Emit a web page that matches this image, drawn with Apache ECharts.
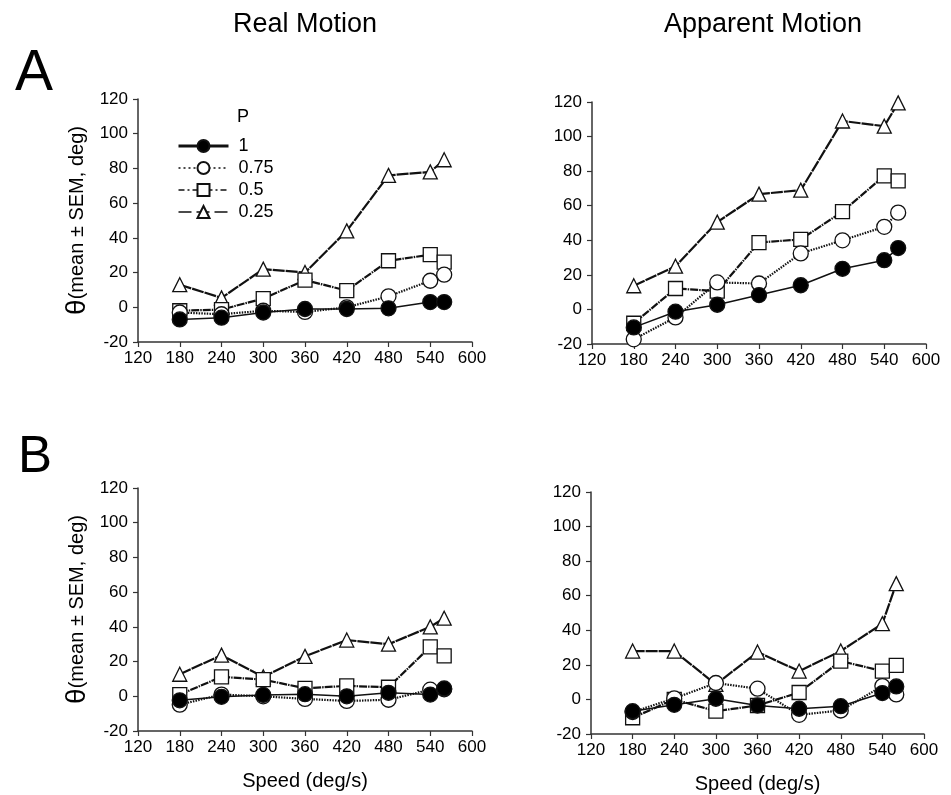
<!DOCTYPE html>
<html>
<head>
<meta charset="utf-8">
<script src="https://cdn.jsdelivr.net/npm/echarts@6/dist/echarts.min.js"></script>
<style>
  html, body { margin: 0; padding: 0; background: #fff; }
  #main { width: 951px; height: 795px; }
</style>
</head>
<body>
<div id="main"></div>
<script>
// speeds (deg/s) shared by every panel
var speeds = [180, 240, 300, 360, 420, 480, 540, 560];
var pLevels = ['1', '0.75', '0.5', '0.25'];
var xTicks = [120, 180, 240, 300, 360, 420, 480, 540, 600];
var yTicks = [-20, 0, 20, 40, 60, 80, 100, 120];

// A - real motion
var realA_1 = [-7, -6, -3, -1, -1, -0.6, 3, 3];
var realA_075 = [-3, -4, -2, -2.7, 0, 6.3, 15.3, 18.8];
var realA_05 = [-2, -1.3, 5, 15.7, 9.6, 26.8, 30.3, 26];
var realA_025 = [13, 5.4, 22, 20, 44, 76, 78, 85];

// A - apparent motion
var appA_1 = [-10.4, -1.3, 2.7, 8.3, 14, 23.5, 28.5, 35.5];
var appA_075 = [-17.3, -4.6, 15.6, 15, 32.4, 40, 47.8, 56];
var appA_05 = [-8, 12.1, 10.6, 38.7, 40.5, 56.6, 77.3, 74.4];
var appA_025 = [13.7, 25, 50.5, 66.7, 69, 109, 106, 119.5];

// B - real motion
var realB_1 = [-2.3, -0.3, 0.8, 1.2, 0, 2, 1, 4.5];
var realB_075 = [-4.8, 1, 0, -1.5, -2.7, -2, 3.8, 4];
var realB_05 = [1, 11.2, 9.6, 4.6, 6, 5.2, 28.5, 23.3];
var realB_025 = [12.7, 23.7, 11.2, 23, 32.4, 30, 40, 45];

// B - apparent motion
var appB_1 = [-6.8, -3.1, 0.4, -3.5, -5.4, -3.9, 3.7, 7.5];
var appB_075 = [-7.3, 0.6, 9.5, 6.2, -8.9, -6.4, 7.7, 2.9];
var appB_05 = [-10.6, 0, -6.8, -3.5, 4, 22.2, 16.4, 19.7];
var appB_025 = [28, 28, 8.7, 27.4, 16.4, 28, 43.8, 67];

var font = 'Liberation Sans, Arial, sans-serif';

var panels = [
  [realA_1, realA_075, realA_05, realA_025],
  [appA_1, appA_075, appA_05, appA_025],
  [realB_1, realB_075, realB_05, realB_025],
  [appB_1, appB_075, appB_05, appB_025]
];

// look of each P level (plot dash is finer than the legend dash)
var looks = {
  '1':    { symbol: 'circle',   size: 15, fill: '#000', dash: 'solid', legendDash: 'solid', width: 1.5 },
  '0.75': { symbol: 'circle',   size: 15, fill: '#fff', dash: [1.5, 1.2], legendDash: [2, 3], width: 2.2 },
  '0.5':  { symbol: 'rect',     size: 14, fill: '#fff', dash: [8, 1, 1.5, 1], legendDash: [6, 3, 2, 3], width: 2.2 },
  '0.25': { symbol: 'triangle', size: 14, fill: '#fff', dash: [12, 1], legendDash: [13, 5], width: 2.2 }
};

function pairs(vals) {
  return speeds.map(function (s, i) { return [s, vals[i]]; });
}

var series = [];
panels.forEach(function (panel, g) {
  // draw 0.25 first so the filled circles sit on top
  for (var k = pLevels.length - 1; k >= 0; k--) {
    var p = pLevels[k];
    var lk = looks[p];
    series.push({
      name: p,
      type: 'line',
      xAxisIndex: g,
      yAxisIndex: g,
      data: pairs(panel[k]),
      symbol: lk.symbol,
      symbolSize: lk.size,
      showAllSymbol: true,
      animation: false,
      itemStyle: { color: lk.fill, borderColor: '#111', borderWidth: 1.3, opacity: 1 },
      lineStyle: { color: '#111', width: lk.width, type: lk.dash },
      emphasis: { disabled: true }
    });
  }
});

var grids = [
  { left: 138, top: 99, width: 334, height: 243 },
  { left: 592, top: 102, width: 334, height: 242 },
  { left: 138, top: 488, width: 334, height: 243 },
  { left: 591, top: 492, width: 333, height: 242 }
];

var xAxes = grids.map(function (gr, i) {
  return {
    type: 'value', gridIndex: i,
    min: xTicks[0], max: xTicks[xTicks.length - 1], interval: 60,
    splitLine: { show: false },
    axisLine: { onZero: false, lineStyle: { color: '#333', width: 1.5 } },
    axisTick: { length: 5, lineStyle: { color: '#333', width: 1.2 } },
    axisLabel: { color: '#000', fontSize: 17, fontFamily: font, margin: 8 },
    name: i >= 2 ? 'Speed (deg/s)' : '',
    nameLocation: 'middle',
    nameGap: 40,
    nameTextStyle: { color: '#000', fontSize: 20, fontFamily: font }
  };
});

var yAxes = grids.map(function (gr, i) {
  return {
    type: 'value', gridIndex: i,
    min: yTicks[0], max: yTicks[yTicks.length - 1], interval: 20,
    splitLine: { show: false },
    axisLine: { show: true, lineStyle: { color: '#333', width: 1.5 } },
    axisTick: { show: true, length: 5, lineStyle: { color: '#333', width: 1.2 } },
    axisLabel: { color: '#000', fontSize: 17, fontFamily: font, margin: 10 },
    name: i % 2 === 0 ? '{t|θ}{m|(mean ± SEM, deg)}' : '',
    nameLocation: 'middle',
    nameGap: 47,
    nameTextStyle: {
      rich: {
        t: { fontSize: 28, fontFamily: font, color: '#000' },
        m: { fontSize: 20, fontFamily: font, color: '#000' }
      }
    }
  };
});

var chart = echarts.init(document.getElementById('main'));
chart.setOption({
  backgroundColor: '#fff',
  animation: false,
  title: [
    { text: 'Real Motion', left: 300, top: 6, textAlign: 'center',
      textStyle: { fontSize: 27, fontWeight: 'normal', color: '#000', fontFamily: font } },
    { text: 'Apparent Motion', left: 758, top: 6, textAlign: 'center',
      textStyle: { fontSize: 27, fontWeight: 'normal', color: '#000', fontFamily: font } },
    { text: 'A', left: 10, top: 41,
      textStyle: { fontSize: 57, fontWeight: 'normal', color: '#000', fontFamily: font } },
    { text: 'B', left: 13, top: 427,
      textStyle: { fontSize: 51, fontWeight: 'normal', color: '#000', fontFamily: font } }
  ],
  legend: {
    orient: 'vertical',
    left: 172, top: 132,
    itemWidth: 50, itemHeight: 15, itemGap: 4,
    selectedMode: false,
    textStyle: { fontSize: 18, fontFamily: font, color: '#000', padding: [0, 0, 0, 5] },
    data: pLevels.map(function (p) {
      return { name: p, lineStyle: { width: p === '1' ? 3 : 1.5, type: looks[p].legendDash } };
    })
  },
  graphic: [
    { type: 'text', left: 237, top: 108,
      style: { text: 'P', fontSize: 18, fontFamily: font, fill: '#000' } }
  ],
  grid: grids,
  xAxis: xAxes,
  yAxis: yAxes,
  series: series
});
</script>
</body>
</html>
